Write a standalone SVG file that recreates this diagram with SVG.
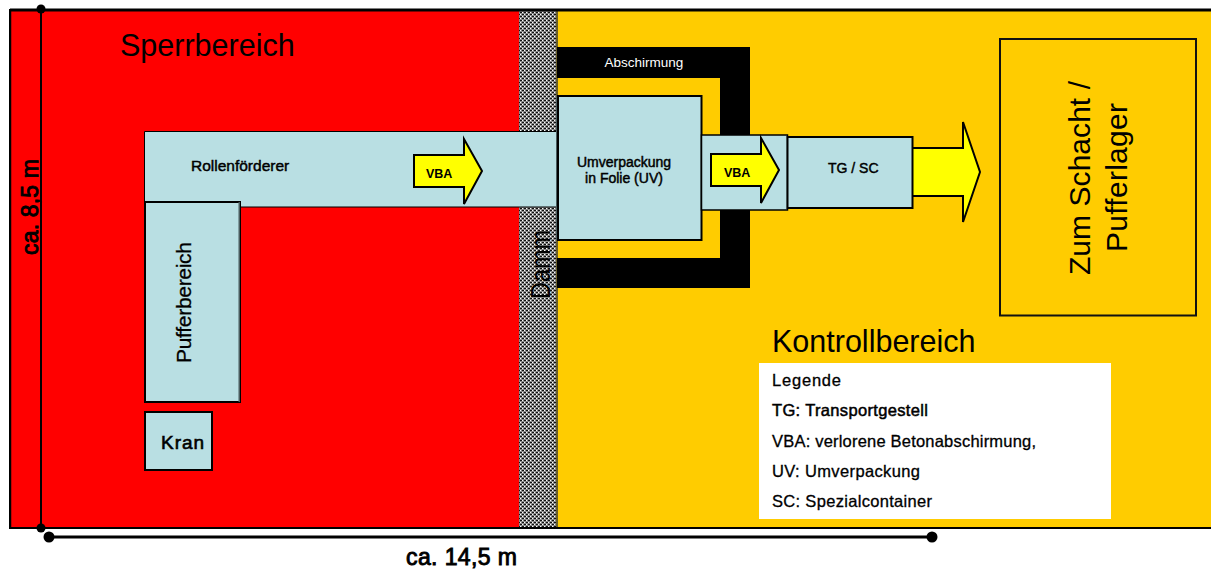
<svg xmlns="http://www.w3.org/2000/svg" width="1211" height="570" viewBox="0 0 1211 570">
<style>
text{font-family:"Liberation Sans",Arial,sans-serif;fill:#000}
.box{fill:#b9dfe3;stroke:#000;stroke-width:2}
.arrow{fill:#ffff00;stroke:#000;stroke-width:2}
.big{font-size:30.500px}
.lab{font-size:14px;stroke:#000;stroke-width:.45}
.vba{font-size:12.500px;font-weight:bold}
.leg{font-size:16.500px;stroke:#000;stroke-width:.3}
.dim{stroke:#000;fill:none}
.mass{font-size:23px;stroke:#000;stroke-width:.9}
</style>
<defs>
<pattern id="hatch" width="4" height="4" patternUnits="userSpaceOnUse">
<rect width="4" height="4" fill="#8c8c8c"/>
<rect width="2" height="1" fill="#111"/><rect x="2" y="2" width="2" height="1" fill="#111"/>
<rect x="2" width="1" height="1" fill="#fff"/><rect y="2" width="1" height="1" fill="#fff"/>
</pattern>
</defs>
<g id="sperrbereich">
<rect x="10" y="10" width="510" height="518" fill="#f00"/>
<rect x="10" y="10" width="2" height="518" fill="#c00000"/>
<text class="big" x="120" y="56">Sperrbereich</text>
</g>
<g id="kontrollbereich">
<rect x="557" y="10" width="654" height="518" fill="#fc0"/>
<text class="big" x="772" y="352">Kontrollbereich</text>
</g>
<g id="damm">
<rect x="519" y="10" width="38" height="518" fill="url(#hatch)"/>
<rect x="556" y="10" width="2" height="518" fill="#6a5f2a"/>
<text transform="translate(550 299) rotate(-90)" style="font-size:27px" textLength="69" lengthAdjust="spacingAndGlyphs">Damm</text>
</g>
<g id="frame">
<path d="M10 10H1211" stroke="#000" stroke-width="3" fill="none"/>
<path d="M10 528H1211" stroke="#000" stroke-width="2" fill="none"/>
<path d="M10 9V529" stroke="#000" stroke-width="2" fill="none"/>
</g>
<g id="abschirmung">
<path d="M557 47H750V288H557V258H720V78H557Z" fill="#000"/>
<text x="644" y="67" text-anchor="middle" style="font-size:13.500px;fill:#fff">Abschirmung</text>
</g>
<g id="rollenfoerderer">
<rect x="144.500" y="131.500" width="412" height="75.500" fill="#b9dfe3"/>
<path d="M144.500 207V131.500H556M240 207H556" fill="none" stroke="#000" stroke-width="1"/>
<rect x="556" y="96" width="2" height="144" fill="#4a5c5e"/>
<text class="lab" x="191" y="171" style="font-size:15.500px">Rollenförderer</text>
</g>
<g id="vba1">
<path class="arrow" d="M414 155H464V139L482 171L464 204V187H414Z"/>
<text class="vba" x="426" y="178">VBA</text>
</g>
<g id="pufferbereich">
<rect class="box" x="145" y="202" width="95" height="200"/>
<rect x="238.500" y="202" width="1.500" height="200" fill="#4a5c5e"/>
<text transform="translate(191 363) rotate(-90)" style="font-size:21px;stroke:#000;stroke-width:.3" textLength="121">Pufferbereich</text>
</g>
<g id="kran">
<rect class="box" x="145" y="412" width="67" height="58"/>
<text x="161" y="449" style="font-size:19px;stroke:#000;stroke-width:.6" textLength="43">Kran</text>
</g>
<g id="umverpackung">
<rect class="box" x="558" y="96" width="143.500" height="144"/>
<text class="lab" text-anchor="middle" x="624" y="167">Umverpackung</text>
<text class="lab" text-anchor="middle" x="624" y="183">in Folie (UV)</text>
</g>
<g id="vba2">
<rect x="701.500" y="135" width="86" height="75" fill="#b9dfe3" stroke="#000" stroke-width="1.500"/>
<path class="arrow" d="M711 154H761V138L779 170L761 203V186H711Z"/>
<text class="vba" x="724" y="177">VBA</text>
</g>
<g id="tgsc">
<path class="arrow" d="M912 148H963V122L980 172L963 222V196H912Z"/>
<rect class="box" x="787.500" y="137" width="125" height="71"/>
<text class="lab" x="828" y="173">TG / SC</text>
</g>
<g id="schacht">
<rect x="1000" y="39" width="196" height="276.500" fill="#fc0" stroke="#111" stroke-width="2"/>
<text transform="translate(1090 275) rotate(-90)" style="font-size:30px" textLength="194">Zum Schacht /</text>
<text transform="translate(1127 252) rotate(-90)" style="font-size:30px" textLength="149">Pufferlager</text>
</g>
<g id="legende">
<rect x="759" y="363" width="352" height="156" fill="#fff"/>
<text class="leg" x="772" y="386" textLength="69">Legende</text>
<text class="leg" x="772" y="416" textLength="156" style="stroke-width:.5">TG: Transportgestell</text>
<text class="leg" x="772" y="447" textLength="264">VBA: verlorene Betonabschirmung,</text>
<text class="leg" x="772" y="477" textLength="148">UV: Umverpackung</text>
<text class="leg" x="772" y="507" textLength="160">SC: Spezialcontainer</text>
</g>
<g id="connectors">
<path class="dim" stroke-width="2" d="M41 9V528"/>
<circle cx="41" cy="9" r="4.500"/>
<circle cx="41" cy="528" r="4.500"/>
<path class="dim" stroke-width="3" d="M49 537H932"/>
<circle cx="49" cy="537" r="5.500"/>
<circle cx="932" cy="537" r="5.500"/>
</g>
<g id="masse">
<text class="mass" transform="translate(38 255) rotate(-90)" textLength="96">ca. 8,5 m</text>
<text class="mass" x="406" y="565" textLength="111">ca. 14,5 m</text>
</g>
</svg>
